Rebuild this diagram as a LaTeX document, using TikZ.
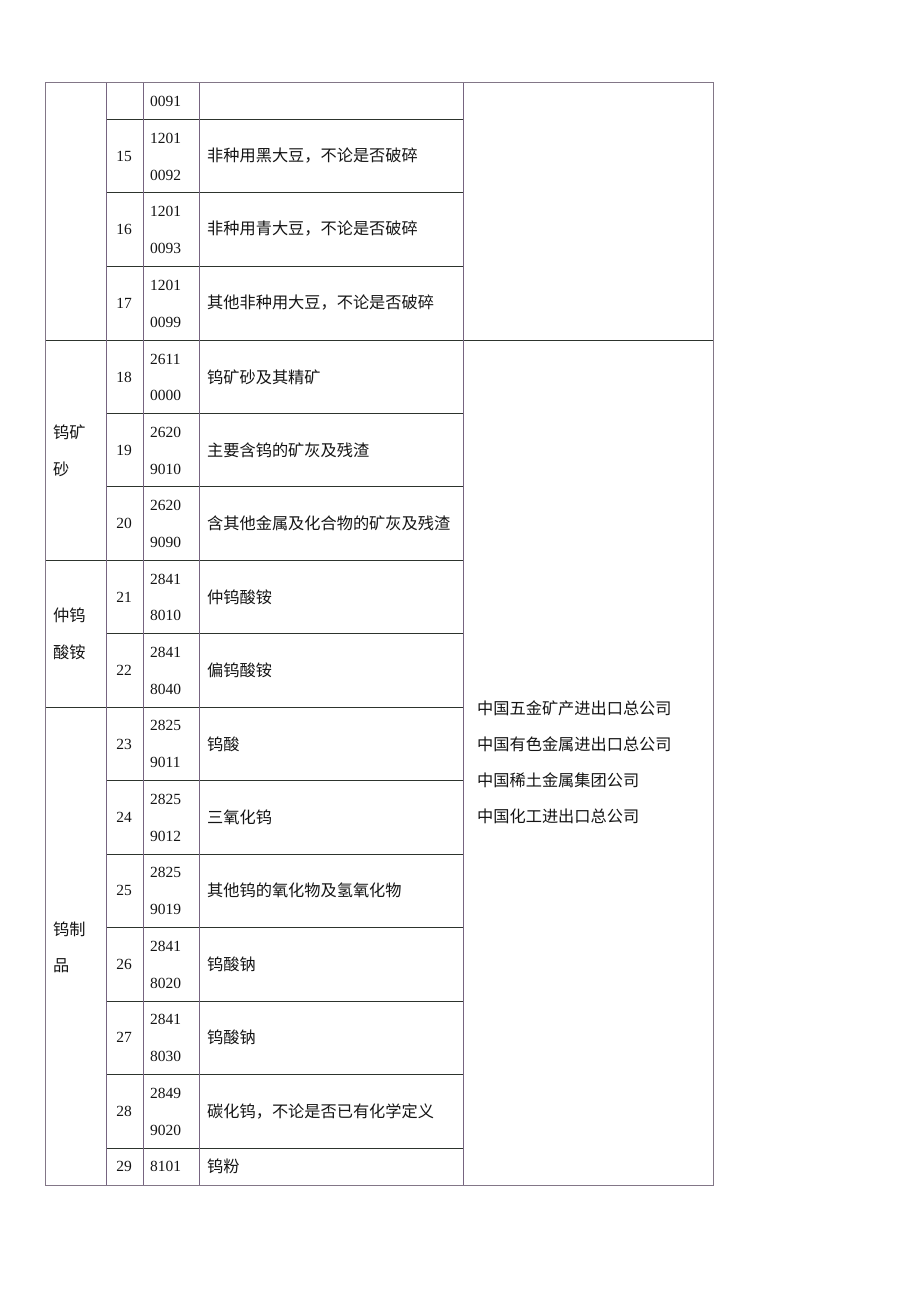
\documentclass[tikz,border=0pt]{standalone}
\usepackage{fontspec}
\setmainfont{Liberation Serif}
\newfontfamily\cjk{Noto Sans CJK SC}
\definecolor{vline}{RGB}{118,100,128}
\definecolor{hline}{RGB}{45,52,45}
\definecolor{bline}{RGB}{130,118,135}
\definecolor{txt}{RGB}{20,20,20}
\tikzset{
  vl/.style={draw=vline,line width=0.8pt},
  hl/.style={draw=hline,line width=0.8pt},
  bl/.style={draw=bline,line width=1pt},
  num/.style={font=\fontsize{15.5}{15.5}\selectfont,text=txt,inner sep=0pt},
  code/.style={font=\fontsize{15.5}{15.5}\selectfont,text=txt,inner sep=0pt,anchor=west},
  desc/.style={font=\cjk\fontsize{16.2}{16.2}\selectfont,text=txt,inner sep=0pt,anchor=west},
}
\begin{document}
\begin{tikzpicture}[x=1pt,y=-1pt]
\useasboundingbox (0,0) rectangle (920,1302);
% horizontal lines in columns 2-4
\foreach \yy in {119,192,266,413,486,633,780,854,927,1001,1074,1148}
  \draw[hl] (106,\yy) -- (463,\yy);
% group lines in column 1
\foreach \yy in {560,707}
  \draw[hl] (45,\yy) -- (463,\yy);
\draw[hl] (45,340) -- (713,340);
% vertical lines
\foreach \xx in {106,143,199,463}
  \draw[vl] (\xx,82) -- (\xx,1185);
% outer border
\draw[bl] (45,82) rectangle (713,1185);
% row texts
\node[code] (c14b) at (150,101) {0091};
\node[num] (n15) at (124,156) {15};
\node[code] (c15a) at (150,138) {1201};
\node[code] (c15b) at (150,175) {0092};
\node[desc] (d15) at (207,156) {非种用黑大豆，不论是否破碎};
\node[num] (n16) at (124,229) {16};
\node[code] (c16a) at (150,211) {1201};
\node[code] (c16b) at (150,248) {0093};
\node[desc] (d16) at (207,229) {非种用青大豆，不论是否破碎};
\node[num] (n17) at (124,303) {17};
\node[code] (c17a) at (150,285) {1201};
\node[code] (c17b) at (150,322) {0099};
\node[desc] (d17) at (207,303) {其他非种用大豆，不论是否破碎};
\node[num] (n18) at (124,377) {18};
\node[code] (c18a) at (150,359) {2611};
\node[code] (c18b) at (150,395) {0000};
\node[desc] (d18) at (207,377) {钨矿砂及其精矿};
\node[num] (n19) at (124,450) {19};
\node[code] (c19a) at (150,432) {2620};
\node[code] (c19b) at (150,469) {9010};
\node[desc] (d19) at (207,450) {主要含钨的矿灰及残渣};
\node[num] (n20) at (124,523) {20};
\node[code] (c20a) at (150,505) {2620};
\node[code] (c20b) at (150,542) {9090};
\node[desc] (d20) at (207,523) {含其他金属及化合物的矿灰及残渣};
\node[num] (n21) at (124,597) {21};
\node[code] (c21a) at (150,579) {2841};
\node[code] (c21b) at (150,615) {8010};
\node[desc] (d21) at (207,597) {仲钨酸铵};
\node[num] (n22) at (124,670) {22};
\node[code] (c22a) at (150,652) {2841};
\node[code] (c22b) at (150,689) {8040};
\node[desc] (d22) at (207,670) {偏钨酸铵};
\node[num] (n23) at (124,744) {23};
\node[code] (c23a) at (150,725) {2825};
\node[code] (c23b) at (150,762) {9011};
\node[desc] (d23) at (207,744) {钨酸};
\node[num] (n24) at (124,817) {24};
\node[code] (c24a) at (150,799) {2825};
\node[code] (c24b) at (150,836) {9012};
\node[desc] (d24) at (207,817) {三氧化钨};
\node[num] (n25) at (124,890) {25};
\node[code] (c25a) at (150,872) {2825};
\node[code] (c25b) at (150,909) {9019};
\node[desc] (d25) at (207,890) {其他钨的氧化物及氢氧化物};
\node[num] (n26) at (124,964) {26};
\node[code] (c26a) at (150,946) {2841};
\node[code] (c26b) at (150,983) {8020};
\node[desc] (d26) at (207,964) {钨酸钠};
\node[num] (n27) at (124,1037) {27};
\node[code] (c27a) at (150,1019) {2841};
\node[code] (c27b) at (150,1056) {8030};
\node[desc] (d27) at (207,1037) {钨酸钠};
\node[num] (n28) at (124,1111) {28};
\node[code] (c28a) at (150,1093) {2849};
\node[code] (c28b) at (150,1130) {9020};
\node[desc] (d28) at (207,1111) {碳化钨，不论是否已有化学定义};
\node[num] (n29) at (124,1166) {29};
\node[code] (c29a) at (150,1166) {8101};
\node[desc] (d29) at (207,1166) {钨粉};
% group labels
\node[desc] (g1a) at (53,432) {钨矿};
\node[desc] (g1b) at (53,469) {砂};
\node[desc] (g2a) at (53,615) {仲钨};
\node[desc] (g2b) at (53,652) {酸铵};
\node[desc] (g3a) at (53,929) {钨制};
\node[desc] (g3b) at (53,966) {品};
% companies
\node[desc] (co1) at (477,708) {中国五金矿产进出口总公司};
\node[desc] (co2) at (477,744) {中国有色金属进出口总公司};
\node[desc] (co3) at (477,780) {中国稀土金属集团公司};
\node[desc] (co4) at (477,816) {中国化工进出口总公司};
\end{tikzpicture}
\end{document}
